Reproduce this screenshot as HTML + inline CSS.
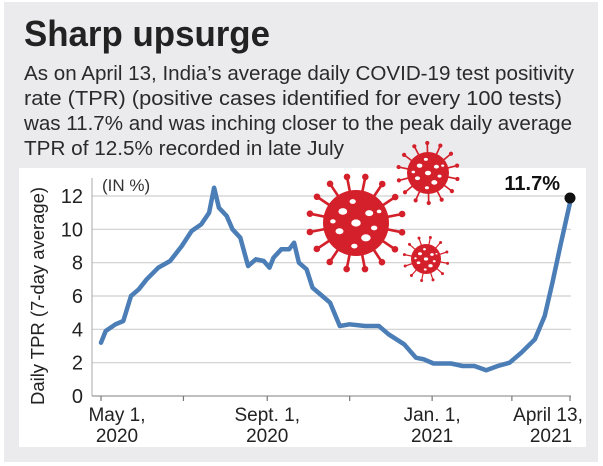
<!DOCTYPE html>
<html><head><meta charset="utf-8">
<style>
html,body{margin:0;padding:0;background:#fff;}
svg{display:block;}
text{font-family:"Liberation Sans Narrow","Liberation Sans",sans-serif;}
</style></head>
<body>
<svg id="chart" width="603" height="466" viewBox="0 0 603 466">
  <rect x="4" y="2" width="594" height="460" fill="#ebebed"/>
  <text x="24" y="46" font-size="36" font-weight="bold" fill="#222" textLength="246" lengthAdjust="spacingAndGlyphs">Sharp upsurge</text>
  <g font-size="20" fill="#2a2a2a">
    <text x="24" y="80" textLength="550" lengthAdjust="spacingAndGlyphs">As on April 13, India’s average daily COVID-19 test positivity</text>
    <text x="24" y="105" textLength="538" lengthAdjust="spacingAndGlyphs">rate (TPR) (positive cases identified for every 100 tests)</text>
    <text x="24" y="130" textLength="548" lengthAdjust="spacingAndGlyphs">was 11.7% and was inching closer to the peak daily average</text>
    <text x="24" y="155" textLength="320" lengthAdjust="spacingAndGlyphs">TPR of 12.5% recorded in late July</text>
  </g>
  <rect x="19" y="168" width="567" height="279" fill="#fff"/>
  <g id="grid"></g>
  <g id="viruses"></g>
  <g id="series"></g>
  <text x="102" y="191" font-size="17" fill="#333">(IN %)</text>
  <text transform="translate(44,296) rotate(-90)" text-anchor="middle" font-size="18" fill="#222" textLength="218" lengthAdjust="spacingAndGlyphs">Daily TPR (7-day average)</text>
</svg>
<script>
const tickValues = [0, 2, 4, 6, 8, 10, 12];
const xTickDays = [0, 61, 123, 184, 245, 304, 347];
const xLabelDays = [0, 123, 245, 347];
const xLabelLine1 = ["May 1,", "Sept. 1,", "Jan. 1,", "April 13,"];
const xLabelLine2 = ["2020", "2020", "2021", "2021"];
const days = [0,3.5,10.7,16.5,22.2,28,33.8,42.4,51.1,59.8,67,74.2,80,83.7,87.2,93,97.3,103.1,108.8,114.6,120.4,124.7,127.6,133.4,139.2,142.9,146.4,152.1,156.5,163.7,169.5,176.7,183.9,195.4,205.6,212.8,224.3,233,238.8,246,259,267.6,276.3,285,293.6,302.3,311,321,328.3,334,339.8,347];
const tpr = [3.2,3.9,4.3,4.5,6.0,6.4,7.0,7.7,8.1,9.0,9.9,10.3,11.0,12.5,11.3,10.8,10.0,9.5,7.8,8.2,8.1,7.7,8.3,8.8,8.8,9.2,8.0,7.6,6.5,6.0,5.6,4.2,4.3,4.2,4.2,3.7,3.1,2.3,2.2,1.95,1.95,1.8,1.8,1.55,1.8,2.0,2.6,3.4,4.8,6.8,9.0,11.6];
const lastValue = 11.7;
const lastLabel = "11.7%";

const NS = "http://www.w3.org/2000/svg";
function xs(d){ return 101 + d * (570 - 101) / 347; }
function ys(v){ return 396 - v * (396 - 196) / 12; }
function mk(tag, attrs, parent){ const e = document.createElementNS(NS, tag); for (const k in attrs) e.setAttribute(k, attrs[k]); parent.appendChild(e); return e; }

const grid = document.getElementById('grid');
tickValues.forEach(v => {
  const l = mk('line', {x1: 92, x2: 571, y1: ys(v), y2: ys(v), stroke: v === 0 ? '#999' : '#cfcfcf', 'stroke-width': 1.2}, grid);
  
  
  const t = mk('text', {x: 83, y: ys(v) + 7, 'text-anchor': 'end', 'font-size': 20, fill: '#222'}, grid);
  t.textContent = v;
  
  
});
const ax = mk('line', {x1: 92, x2: 92, y1: 178, y2: 396, stroke: '#aaa', 'stroke-width': 1}, grid);


xTickDays.forEach(d => {
  const l = mk('line', {x1: xs(d), x2: xs(d), y1: 396, y2: 401, stroke: '#777', 'stroke-width': 1.2}, grid);
  
  
});
xLabelDays.forEach((d, i) => {
  let cx = xs(d) + (i === 0 ? 16 : 0) + (i === 3 ? -22 : 0);
  const t1 = mk('text', {x: cx, y: 421, 'text-anchor': 'middle', 'font-size': 19, fill: '#222'}, grid);
  t1.textContent = xLabelLine1[i];
  
  
  const t2 = mk('text', {x: cx + (i === 3 ? 3 : 0), y: 442, 'text-anchor': 'middle', 'font-size': 19, fill: '#222'}, grid);
  t2.textContent = xLabelLine2[i];
  
  
});

const vg = document.getElementById('viruses');
function virus(cx, cy, body, spike, n, name){
  const g = mk('g', {fill: '#d4202a', stroke: '#d4202a'}, vg);
  
  
  for (let i = 0; i < n; i++){
    const a = i * 2 * Math.PI / n + 0.2;
    const x2 = cx + Math.cos(a) * spike, y2 = cy + Math.sin(a) * spike;
    mk('line', {x1: cx, y1: cy, x2: x2, y2: y2, 'stroke-width': body * 0.08}, g);
    mk('circle', {cx: x2, cy: y2, r: body * 0.1, stroke: 'none'}, g);
  }
  mk('circle', {cx: cx, cy: cy, r: body, stroke: 'none'}, g);
  const spots = [[0,0,0.12],[0.4,-0.3,0.1],[-0.4,-0.35,0.11],[-0.5,0.25,0.1],[0.3,0.45,0.12],[0.55,0.15,0.08],[-0.1,-0.65,0.08],[-0.05,0.7,0.08],[0.7,-0.35,0.06],[-0.7,-0.05,0.07]];
  spots.forEach(s => mk('ellipse', {cx: cx + s[0]*body, cy: cy + s[1]*body, rx: s[2]*body*1.2, ry: s[2]*body*0.9, fill: '#fff', stroke: 'none'}, g));
}
virus(356, 223, 33, 47, 16, 'virus-illustration-large');
virus(428, 173, 21, 30, 14, 'virus-illustration-top');
virus(426, 259, 15, 22, 12, 'virus-illustration-small');

const sg = document.getElementById('series');
let d = '';
days.forEach((dd, i) => { d += (i ? 'L' : 'M') + xs(dd).toFixed(1) + ',' + ys(tpr[i]).toFixed(1); });
const path = mk('path', {d: d, fill: 'none', stroke: '#4b7db6', 'stroke-width': 4.5, 'stroke-linejoin': 'round', 'stroke-linecap': 'round'}, sg);


const dot = mk('circle', {cx: xs(days[days.length-1]), cy: ys(lastValue) - 3, r: 5.5, fill: '#111'}, sg);


const lab = mk('text', {x: 560, y: 190, 'text-anchor': 'end', 'font-size': 20, 'font-weight': 'bold', fill: '#111'}, sg);
lab.textContent = lastLabel;


</script>
</body></html>
